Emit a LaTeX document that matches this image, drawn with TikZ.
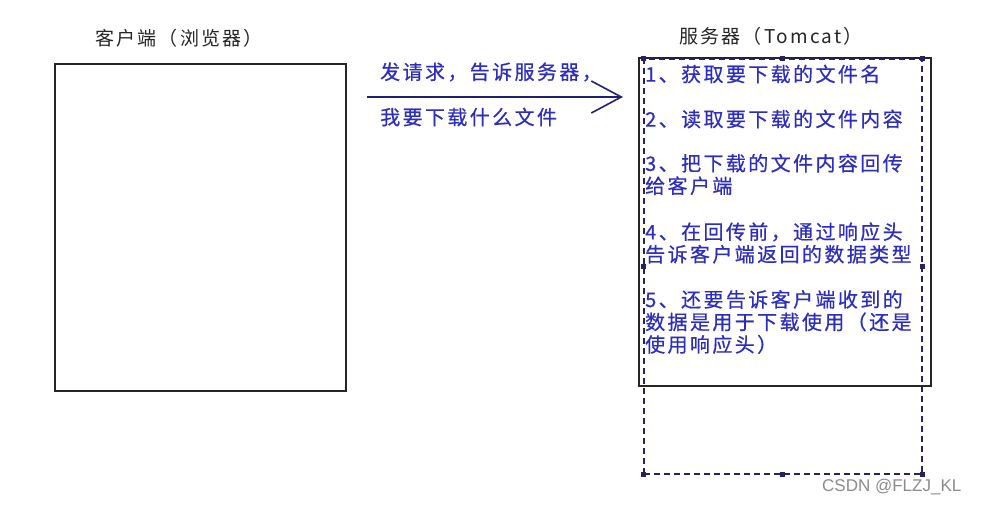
\documentclass[tikz,border=0pt]{standalone}
\usepackage{fontspec}
\newfontfamily\cjk[LetterSpace=12]{Noto Sans CJK SC}
\newfontfamily\cjkbold[LetterSpace=12, FakeBold=0.5]{Noto Sans CJK SC}
\newfontfamily\marksans{Liberation Sans}
\usetikzlibrary{positioning}
\usetikzlibrary{arrows.meta}
\definecolor{stepblue}{RGB}{45,45,190}
\definecolor{framenavy}{RGB}{35,35,100}

\begin{document}
\begin{tikzpicture}[
    x=1pt, y=-1pt,
    box/.style={
        draw=black!85, line width=1.8pt,
        minimum width=291pt, minimum height=327pt,
        anchor=north west, inner sep=0pt
    },
    title/.style={
        font=\cjk\fontsize{19}{22}\selectfont,
        text=black!85, inner sep=0pt
    },
    note/.style={
        font=\cjkbold\fontsize{20}{22.5}\selectfont,
        text=stepblue, align=left, anchor=west, inner sep=0pt
    },
    handle/.style={fill=framenavy, minimum size=5pt, inner sep=0pt}
]
\useasboundingbox[fill=white] (0,0) rectangle (982,506);

\node[box] (client) at (54,63) {};
\node[box, minimum width=292pt, minimum height=328pt] (server) at (638,57) {};
\node[title] (clienttitle) at (179,38) {客户端（浏览器）};
\node[title] (servertitle) at (771,36) {服务器（Tomcat）};

\node[draw=framenavy, line width=1.5pt, dash pattern=on 6pt off 4pt,
      minimum width=278pt, minimum height=415pt,
      anchor=north west, inner sep=0pt] (frame) at (643,58) {};
\foreach \a in {north west,north,north east,west,east,south west,south,south east}
    \node[handle] (h \a) at (frame.\a) {};

\coordinate (reqfrom) at (367,97);
\coordinate (reqto) at (623,97);
\draw[framenavy!90!blue, line width=1.6pt,
      -{Straight Barb[length=30pt, width=32pt, line width=1.6pt]}] (reqfrom) -- (reqto);
\node[note] (ask1) at (380,72) {发请求，告诉服务器，};
\node[note] (ask2) at (380,117) {我要下载什么文件};

\node[note] (s1) at (645,74) {1、获取要下载的文件名};
\node[note] (s2) at (645,119) {2、读取要下载的文件内容};
\node[note] (s3) at (645,174.5) {3、把下载的文件内容回传\\给客户端};
\node[note] (s4) at (645,243) {4、在回传前，通过响应头\\告诉客户端返回的数据类型};
\node[note] (s5) at (645,322) {5、还要告诉客户端收到的\\数据是用于下载使用（还是\\使用响应头）};

\node[font=\marksans\fontsize{17}{17}\selectfont, text=black!45,
      anchor=west, inner sep=0pt] (mark) at (822,487) {CSDN @FLZJ\_KL};
\end{tikzpicture}
\end{document}
